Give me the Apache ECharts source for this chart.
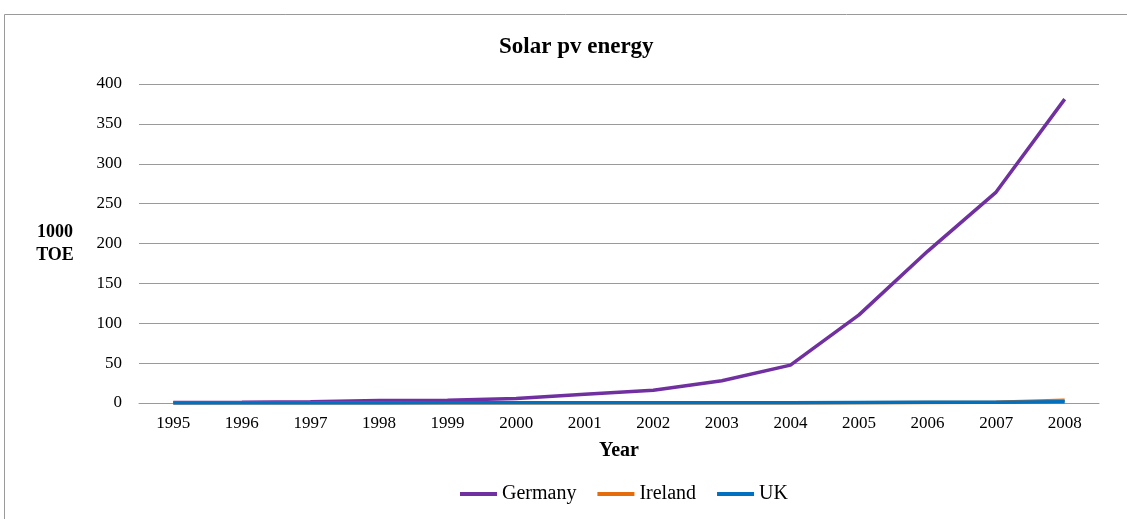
<!DOCTYPE html>
<html>
<head>
<meta charset="utf-8">
<script src="https://cdn.jsdelivr.net/npm/echarts@6/dist/echarts.min.js"></script>
<style>
  html, body { margin: 0; padding: 0; background: #fff; }
  #chart { width: 1127px; height: 519px; }
</style>
</head>
<body>
<div id="chart"></div>
<script>
// Solar PV energy output, 1000 TOE
const years = ['1995','1996','1997','1998','1999','2000','2001','2002','2003','2004','2005','2006','2007','2008'];
const germany = [0.6, 1.0, 1.5, 3.0, 3.4, 5.6, 11.1, 16.0, 28.0, 47.5, 110.5, 190.2, 264.5, 381.0];
const ireland = [0, 0, 0, 0, 0, 0, 0, 0, 0, 0.1, 0.3, 0.6, 1.0, 3.5];
const uk = [0.1, 0.1, 0.1, 0.1, 0.2, 0.2, 0.2, 0.3, 0.3, 0.4, 0.6, 0.8, 1.0, 1.5];
const yTicks = [0, 50, 100, 150, 200, 250, 300, 350, 400];

const serif = '"Liberation Serif", "DejaVu Serif", serif';
const chart = echarts.init(document.getElementById('chart'), null, { renderer: 'canvas' });

const mkSeries = (name, data, color) => ({
  name, type: 'line', data,
  symbol: 'none', smooth: false,
  lineStyle: { width: 3.5, color },
  itemStyle: { color }
});

chart.setOption({
  animation: false,
  backgroundColor: '#fff',
  textStyle: { fontFamily: serif },
  graphic: [{
    type: 'polyline',
    shape: { points: [[4.5, 519], [4.5, 14.5], [1127, 14.5]] },
    style: { stroke: '#9a9a9a', lineWidth: 1, fill: null }
  }],
  title: {
    text: 'Solar pv energy',
    left: 494, top: 31,
    textStyle: { fontFamily: serif, fontSize: 23, fontWeight: 'bold', color: '#000' }
  },
  grid: { left: 139, right: 28, top: 84, bottom: 116, containLabel: false },
  legend: {
    top: 479, left: 455,
    itemWidth: 37, itemHeight: 4, itemGap: 21,
    icon: 'rect',
    textStyle: { fontFamily: serif, fontSize: 20, color: '#000' },
    data: ['Germany', 'Ireland', 'UK']
  },
  xAxis: {
    type: 'category', data: years, boundaryGap: true,
    name: 'Year', nameLocation: 'middle', nameGap: 38,
    nameTextStyle: { fontFamily: serif, fontSize: 20, fontWeight: 'bold', color: '#000' },
    axisLine: { lineStyle: { color: '#9a9a9a', width: 1 } },
    axisTick: { show: false },
    axisLabel: { fontFamily: serif, fontSize: 17, color: '#000', margin: 12, interval: 0 }
  },
  yAxis: {
    type: 'value', min: 0, max: 400, interval: 50,
    name: '1000\nTOE', nameLocation: 'middle', nameGap: 84, nameRotate: 0,
    nameTextStyle: { fontFamily: serif, fontSize: 18, fontWeight: 'bold', color: '#000', lineHeight: 23, align: 'center' },
    axisLine: { show: false }, axisTick: { show: false },
    axisLabel: {
      fontFamily: serif, fontSize: 17, color: '#000', margin: 17,
      formatter: v => (yTicks.includes(v) ? String(v) : '')
    },
    splitLine: { lineStyle: { color: '#9a9a9a', width: 1 } }
  },
  series: [
    mkSeries('Germany', germany, '#7030a0'),
    mkSeries('Ireland', ireland, '#e46c0a'),
    mkSeries('UK', uk, '#0070c0')
  ]
});
</script>
</body>
</html>
